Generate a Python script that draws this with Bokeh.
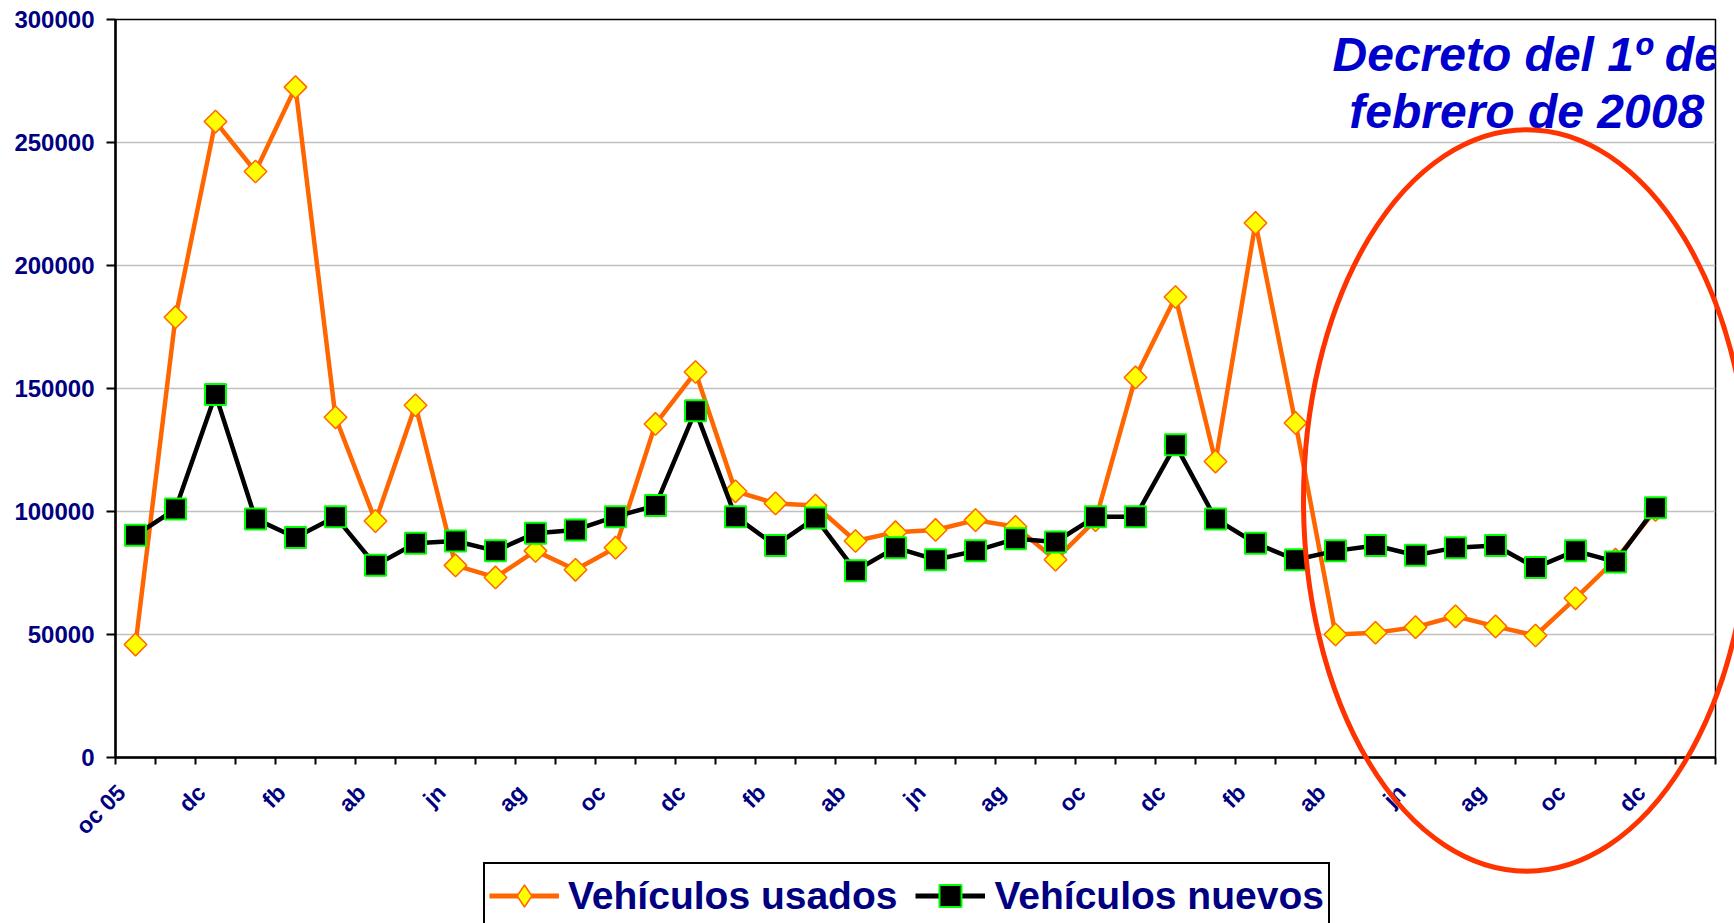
import numpy as np
from bokeh.plotting import figure
from bokeh.models import (Range1d, FixedTicker, NumeralTickFormatter, Legend,
                          LegendItem, ColumnDataSource, GridBox)
from bokeh.core.properties import value
from bokeh.embed import file_html
from bokeh.resources import INLINE

# ---------------- data ----------------
months = ["oc 05", "nv", "dc", "en", "fb", "mr", "ab", "my", "jn", "jl", "ag", "sp",
          "oc", "nv", "dc", "en", "fb", "mr", "ab", "my", "jn", "jl", "ag", "sp",
          "oc", "nv", "dc", "en", "fb", "mr", "ab", "my", "jn", "jl", "ag", "sp",
          "oc", "nv", "dc"]
n_slots = 40  # category slots on the axis (last one empty)

usados = [45900, 179000, 258500, 238200, 272500, 138300, 96100, 143200, 78100, 73200,
          84000, 76300, 85300, 135600, 156700, 108200, 103300, 102400, 88000, 91600,
          92500, 96500, 93800, 80400, 96500, 154500, 187200, 120300, 217300, 136000,
          50000, 50700, 53000, 57400, 53300, 49600, 64700, 80400, 100600]
nuevos = [90300, 101000, 147600, 97000, 89400, 97900, 78100, 87100, 88000, 84000,
          91200, 92500, 97900, 102400, 141000, 97900, 86200, 97400, 75900, 85300,
          80400, 84000, 88900, 87600, 97900, 97900, 127100, 97000, 87100, 80400,
          84000, 86200, 82200, 85300, 86200, 77200, 84000, 79500, 101500]

y_ticks = [0, 50000, 100000, 150000, 200000, 250000, 300000]
label_every = 2

series_names = ["Vehículos usados", "Vehículos nuevos"]
note_lines = ["Decreto del 1º de", "febrero de 2008"]

NAVY = "#000080"
FONT = "Liberation Sans"
ORANGE = "#FF6600"
YELLOW = "#FFFF00"
GREEN = "#00FF00"

# ---------------- layout constants (pixels) ----------------
W, H = 1734, 923
FL, FR, FT, FB = 115, 1715, 19, 757   # frame edges on the canvas

fig = figure(width=W, height=H, output_backend="svg", toolbar_location=None,
             x_range=Range1d(0, n_slots), y_range=Range1d(y_ticks[0], y_ticks[-1]),
             min_border_left=FL, min_border_right=W - FR, min_border_top=FT,
             min_border_bottom=H - FB)
fig.frame_align = False
fig.background_fill_color = "white"
fig.border_fill_color = "white"
fig.outline_line_color = "black"
fig.outline_line_width = 1.5

xs = [i + 0.5 for i in range(len(months))]
src = ColumnDataSource(dict(x=xs, usados=usados, nuevos=nuevos, m=months))

# ---------------- axes ----------------
label_shift = 0.35  # rotated labels end a little left of the category centre
xaxis = fig.xaxis[0]
lab_pos = [xs[i] - label_shift for i in range(0, len(months), label_every)]
xaxis.ticker = FixedTicker(ticks=lab_pos, minor_ticks=list(range(0, n_slots + 1)))
xaxis.major_label_overrides = {lab_pos[k]: months[i] for k, i in
                               enumerate(range(0, len(months), label_every))}
xaxis.major_tick_out = 0
xaxis.major_tick_in = 0
xaxis.minor_tick_out = 7
xaxis.minor_tick_in = 0
xaxis.minor_tick_line_width = 2
xaxis.minor_tick_line_color = "black"
xaxis.axis_line_width = 2.5
xaxis.axis_line_color = "black"
xaxis.major_label_orientation = np.pi / 4
xaxis.major_label_standoff = 24
xaxis.major_label_text_font = FONT
xaxis.major_label_text_font_style = "bold"
xaxis.major_label_text_font_size = "23px"
xaxis.major_label_text_color = NAVY

yaxis = fig.yaxis[0]
yaxis.ticker = FixedTicker(ticks=y_ticks, minor_ticks=[])
yaxis.formatter = NumeralTickFormatter(format="0")
yaxis.major_tick_out = 9
yaxis.major_tick_in = 0
yaxis.major_tick_line_width = 2
yaxis.major_tick_line_color = "black"
yaxis.minor_tick_out = 0
yaxis.minor_tick_in = 0
yaxis.axis_line_width = 2.5
yaxis.axis_line_color = "black"
yaxis.major_label_standoff = 12
yaxis.major_label_text_font = FONT
yaxis.major_label_text_font_style = "bold"
yaxis.major_label_text_font_size = "24px"
yaxis.major_label_text_color = NAVY

fig.xgrid.grid_line_color = None
fig.ygrid.grid_line_color = "#c0c0c0"
fig.ygrid.grid_line_width = 1.5

# ---------------- series ----------------
fig.line("x", "usados", source=src, line_color=ORANGE, line_width=4.5)
fig.scatter("x", "usados", source=src, marker="square", angle=np.pi / 4, size=16,
            fill_color=YELLOW, line_color=ORANGE, line_width=1.5)
fig.line("x", "nuevos", source=src, line_color="black", line_width=4.5)
fig.scatter("x", "nuevos", source=src, marker="square", size=21,
            fill_color="black", line_color=GREEN, line_width=2)

# note text (clipped by the frame like in the original)
ell_cx, ell_cy, ell_rx, ell_ry = 35.28, 104500, 5.58, 150800
fig.text(x=[ell_cx, ell_cx], y=[285800, 262600], text=note_lines,
         text_font=value(FONT), text_font_style="bold italic", text_font_size="48px",
         text_color="#0000CC", text_align="center", text_baseline="alphabetic")

# ---------------- transparent overlay (ellipse + legend, not clipped by the frame) ----------------
ux = (FR - FL) / n_slots                      # px per x unit
uy = (FB - FT) / (y_ticks[-1] - y_ticks[0])   # px per y unit
ov = figure(width=W, height=H, output_backend="svg", toolbar_location=None,
            x_range=Range1d(-FL / ux, (W - FL) / ux),
            y_range=Range1d(-(H - FB) / uy, y_ticks[-1] + FT / uy),
            x_axis_type=None, y_axis_type=None,
            min_border_left=0, min_border_right=0, min_border_top=0, min_border_bottom=0)
ov.frame_align = False
ov.outline_line_color = None
ov.background_fill_alpha = 0
ov.border_fill_alpha = 0
ov.grid.visible = False

ov.ellipse(x=[ell_cx], y=[ell_cy], width=[2 * ell_rx], height=[2 * ell_ry],
           fill_alpha=0, line_color="#FF3300", line_width=5)

# legend-only renderers (a single NaN point: nothing is drawn on the chart)
lu = ov.line([np.nan], [np.nan], line_color=ORANGE, line_width=5)
su = ov.scatter([np.nan], [np.nan], marker="diamond", size=22,
                fill_color=YELLOW, line_color=ORANGE, line_width=1.5)
ln = ov.line([np.nan], [np.nan], line_color="black", line_width=5)
sn = ov.scatter([np.nan], [np.nan], marker="square", size=22, fill_color="black",
                line_color=GREEN, line_width=2)

legend = Legend(items=[LegendItem(label=series_names[0], renderers=[lu, su]),
                       LegendItem(label=series_names[1], renderers=[ln, sn])],
                orientation="horizontal", location=(483, -6))
legend.label_text_font = FONT
legend.label_text_font_style = "bold"
legend.label_text_font_size = "39px"
legend.label_text_color = NAVY
legend.glyph_width = 70
legend.glyph_height = 55
legend.label_standoff = 9
legend.spacing = 18
legend.padding = 4
legend.margin = 0
legend.border_line_color = "black"
legend.border_line_width = 2
legend.border_line_alpha = 1
legend.background_fill_color = "white"
legend.background_fill_alpha = 1
ov.add_layout(legend)

p = GridBox(children=[(fig, 0, 0), (ov, 0, 0)])
open("out.html", "w").write(file_html(p, INLINE))
